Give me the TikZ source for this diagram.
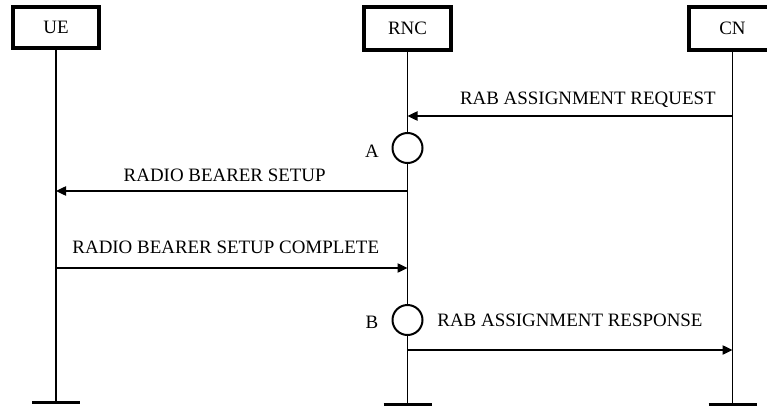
\documentclass[tikz,border=0pt]{standalone}
\usepackage{fontspec}
\setmainfont{Liberation Serif}
\usetikzlibrary{arrows.meta}

\tikzset{
	entity/.style={draw, line width=3pt, minimum width=65pt, minimum height=32pt, inner sep=0pt},
	life/.style={line width=1.4pt},
	foot/.style={line width=2.4pt},
	msg/.style={line width=1pt, -{Triangle[length=7.5pt, width=7pt]}},
	state/.style={circle, draw, fill=white, line width=1.5pt, minimum size=22.5pt, inner sep=0pt},
	every node/.style={font=\fontsize{14.2}{17}\selectfont, text height=9.5pt, text depth=0pt}
}

\begin{document}
\begin{tikzpicture}[x=.75pt, y=-.75pt]
		\useasboundingbox (0,0) rectangle (767,407);

		\node[entity, minimum height=31pt] (ue) at (56,27.5) {UE};
		\node[entity] (rnc) at (407.5,28.5) {RNC};
		\node[entity] (cn) at (732.5,28.5) {CN};

		\draw[life, line width=2.2pt] (ue.south) -- (ue |- 0,402.5) coordinate (uefoot);
		\draw[life] (rnc.south) -- (rnc |- 0,404.5) coordinate (rncfoot);
		\draw[life] (cn.south) -- (cn |- 0,404.5) coordinate (cnfoot);

		\draw[foot] ([xshift=-18pt]uefoot) -- ([xshift=18pt]uefoot);
		\draw[foot] ([xshift=-18pt]rncfoot) -- ([xshift=18pt]rncfoot);
		\draw[foot] ([xshift=-18pt]cnfoot) -- ([xshift=18pt]cnfoot);

		\draw[msg] (cn |- 0,116) -- (rnc |- 0,116) node[pos=.445, yshift=13.5pt] {RAB ASSIGNMENT REQUEST};

		\node[state] (a) at (rnc |- 0,148) {};
		\node (la) at (372,151) {A};

		\draw[msg] (rnc |- 0,191) -- (ue |- 0,191) node[pos=.52, yshift=12pt] {RADIO BEARER SETUP};
		\draw[msg] (ue |- 0,268) -- (rnc |- 0,268) node[pos=.483, yshift=15.5pt] {RADIO BEARER SETUP COMPLETE};

		\node[state] (b) at (rnc |- 0,320) {};
		\node (lb) at (372,322) {B};

		\draw[msg] (rnc |- 0,350) -- (cn |- 0,350) node[pos=.5, yshift=22.5pt] {RAB ASSIGNMENT RESPONSE};
	\end{tikzpicture}
\end{document}
